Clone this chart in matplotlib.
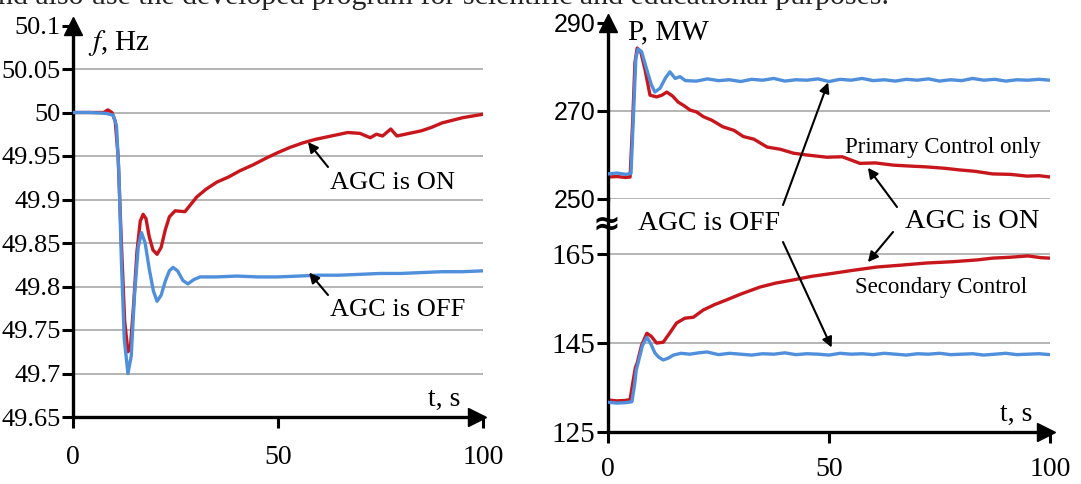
import numpy as np
import matplotlib.pyplot as plt

plt.rcParams['font.family'] = ['Liberation Serif', 'DejaVu Serif']
plt.rcParams['mathtext.fontset'] = 'stix'

RED = '#c8161d'
BLUE = '#4f8fdc'
GRID = '#a8a8a8'

# frequency, AGC off / on
t_f_off = [0, 4, 8, 9.8, 10.6, 11.2, 11.8, 12.5, 13.4, 14.2, 15.0, 15.9, 16.7, 17.6, 18.6, 19.6,
           20.5, 21.5, 22.5, 23.5, 24.4, 25.5, 26.8, 28.0, 29.5, 31, 35, 40, 45, 50, 55, 60,
           65, 70, 75, 80, 85, 90, 95, 100]
f_off = [50.0, 50.0, 49.999, 49.997, 49.985, 49.93, 49.83, 49.74, 49.70, 49.72, 49.79, 49.845,
         49.862, 49.85, 49.82, 49.795, 49.783, 49.79, 49.806, 49.818, 49.822, 49.818, 49.807,
         49.803, 49.808, 49.811, 49.811, 49.812, 49.811, 49.811, 49.812, 49.813, 49.813,
         49.814, 49.815, 49.815, 49.816, 49.817, 49.817, 49.818]

t_f_on = [0, 4, 7.5, 8.5, 9.5, 10.3, 11.0, 11.8, 12.6, 13.4, 14.0, 14.8, 15.6, 16.4, 17.1, 17.8,
          18.6, 19.5, 20.5, 21.5, 22.5, 23.5, 24.9, 27.3, 30.2, 32.5, 35.1, 38, 40.7, 44, 47.3,
          50, 53, 56, 59, 62, 65, 67, 70, 72.5, 74, 75.5, 77.5, 79, 81, 83, 85, 87.5, 90,
          92.5, 95, 97.5, 100]
f_on = [50.0, 50.0, 50.0, 50.003, 50.0, 49.99, 49.95, 49.85, 49.76, 49.725, 49.73, 49.78,
        49.84, 49.875, 49.883, 49.878, 49.857, 49.842, 49.837, 49.845, 49.865, 49.88, 49.887,
        49.886, 49.903, 49.912, 49.92, 49.926, 49.933, 49.94, 49.948, 49.954, 49.960, 49.965,
        49.969, 49.972, 49.975, 49.977, 49.976, 49.971, 49.975, 49.973, 49.981, 49.973,
        49.975, 49.977, 49.979, 49.983, 49.988, 49.991, 49.994, 49.996, 49.998]

# power, group with primary control only
t_pu_off = [0, 2, 4, 5.2, 5.8, 6.3, 6.8, 7.6, 8.8, 9.8, 10.6, 11.8, 13, 14, 15.2, 16.3, 17.5,
            20, 22.5, 25, 27.5, 30, 32.5, 35, 37.5, 40, 42.5, 45, 47.5, 50, 52.5, 55, 57.5,
            60, 62.5, 65, 67.5, 70, 72.5, 75, 77.5, 80, 82.5, 85, 87.5, 90, 92.5, 95, 97.5, 100]
p_u_off = [255.7, 255.9, 255.6, 255.8, 270, 282, 284.1, 283.5, 279.3, 276, 274.3, 275.2,
           277.5, 278.9, 277.4, 277.8, 276.9, 276.8, 277.3, 276.9, 277.1, 276.7, 277.2,
           277.0, 277.4, 276.8, 277.1, 277.0, 277.3, 276.7, 277.2, 277.0, 277.4, 276.9,
           277.1, 276.8, 277.2, 277.0, 277.3, 276.8, 277.1, 276.9, 277.4, 277.0, 277.2,
           276.8, 277.1, 277.0, 277.2, 277.0]

t_pu_on = [0, 2, 4, 5.0, 5.6, 6.1, 6.6, 7.4, 8.4, 9.5, 11, 12.2, 13.3, 14.6, 15.9, 17.2, 18.6,
           20, 21.6, 23.5, 26, 28.5, 30.6, 33, 36, 39, 42, 45, 49.5, 53, 57, 60.5, 64.5, 68,
           72, 76, 79.6, 83, 87, 91, 94.8, 97.5, 100]
p_u_on = [255.0, 255.1, 254.9, 255.0, 268, 281, 284.3, 283.5, 279.3, 273.6, 273.2, 273.6,
          274.3, 273.4, 272.0, 271.2, 270.2, 269.8, 268.7, 267.9, 266.4, 265.6, 264.2, 263.6,
          261.8, 261.3, 260.4, 260.0, 259.5, 259.6, 258.1, 258.2, 257.7, 257.5, 257.3, 257.0,
          256.6, 256.3, 255.7, 255.6, 255.2, 255.3, 255.0]

# power, group with secondary control
t_pl_on = [0, 2, 4, 5.0, 5.6, 6.2, 6.6, 7.6, 8.8, 9.8, 11, 12.5, 14, 15.5, 17.4, 19.3, 21.5,
           24, 26.8, 30, 34.4, 38, 41.9, 46, 51, 55, 60.8, 66, 72, 78, 83.5, 87, 91, 95, 98, 100]
p_l_on = [132.2, 132.0, 132.1, 132.3, 136, 139.5, 140.5, 144.5, 147.2, 146.5, 145.0, 145.2,
          147.3, 149.5, 150.6, 150.8, 152.4, 153.6, 154.7, 156.0, 157.6, 158.5, 159.2, 160.0,
          160.7, 161.3, 162.1, 162.5, 163.0, 163.3, 163.7, 164.1, 164.3, 164.6, 164.2, 164.1]

t_pl_off = [0, 2, 4, 5.4, 6.0, 6.4, 6.8, 7.8, 8.8, 9.7, 10.6, 11.5, 12.5, 13.6, 14.8, 16.5,
            18.5, 20.5, 22.4, 25, 27.5, 30, 32.5, 35, 37.5, 40, 42.5, 45, 47.5, 50, 52.5, 55,
            57.5, 60, 62.5, 65, 67.5, 70, 72.5, 75, 77.5, 80, 82.5, 85, 87.5, 90, 92.5, 95,
            97.5, 100]
p_l_off = [131.7, 131.5, 131.6, 131.8, 135.5, 139, 140.5, 144.5, 146.3, 144.8, 142.8, 141.8,
           141.2, 141.6, 142.3, 142.7, 142.5, 142.8, 143.0, 142.4, 142.7, 142.5, 142.3, 142.6,
           142.5, 142.8, 142.4, 142.6, 142.5, 142.3, 142.7, 142.5, 142.6, 142.4, 142.7, 142.5,
           142.3, 142.6, 142.5, 142.7, 142.4, 142.5, 142.6, 142.3, 142.5, 142.7, 142.4, 142.5,
           142.6, 142.4]

f_ticks = [49.65, 49.7, 49.75, 49.8, 49.85, 49.9, 49.95, 50, 50.05, 50.1]
f_labels = ['49.65', '49.7', '49.75', '49.8', '49.85', '49.9', '49.95', '50', '50.05', '50.1']
t_ticks = [0, 50, 100]

W, H = 1081, 484
fig = plt.figure(figsize=(W / 100, H / 100), dpi=100)


def px_axes(left, top, right, bottom):
    return fig.add_axes([left / W, 1 - bottom / H, (right - left) / W, (bottom - top) / H])


def base_style(ax):
    ax.set_facecolor('none')
    ax.spines['top'].set_visible(False)
    ax.spines['right'].set_visible(False)
    ax.spines['left'].set_linewidth(2.4)
    ax.spines['bottom'].set_linewidth(2.4)
    ax.tick_params(direction='out', width=2.2, length=8, pad=1)
    ax.set_xlim(0, 100)


def arrow_line(x0, y0, ax, xy):
    # arrow from a point in figure pixels (from top) to a data point
    ax.annotate('', xy=xy, xycoords='data', xytext=(x0, H - y0), textcoords='figure pixels',
                arrowprops=dict(arrowstyle='-|>', color='black', lw=1.5, mutation_scale=15,
                                shrinkA=0, shrinkB=0), annotation_clip=False)


# ---- left: frequency
ax1 = px_axes(73, 25.5, 483, 417)
base_style(ax1)
ax1.set_ylim(49.65, 50.1)
for v in f_ticks[1:-1]:
    ax1.axhline(v, color=GRID, lw=1.2, zorder=0)
ax1.plot(t_f_on, f_on, color=RED, lw=2.4, zorder=2)
ax1.plot(t_f_off, f_off, color=BLUE, lw=2.4, zorder=3)
ax1.set_yticks(f_ticks)
ax1.set_yticklabels(f_labels, fontsize=19)
ax1.set_xticks(t_ticks)
ax1.set_xticklabels(['0', '50', '100'], fontsize=20)
ax1.tick_params(axis='x', pad=12)
ax1.plot(0, 1.0, marker='^', color='black', ms=13, transform=ax1.transAxes, clip_on=False)
ax1.plot(0.985, 0, marker='>', color='black', ms=13, transform=ax1.transAxes, clip_on=False)
fig.text(88 / W, 1 - 43 / H, r'$f$, Hz', fontsize=21, va='center')
fig.text(428 / W, 1 - 399 / H, 't, s', fontsize=20, va='center')
fig.text(330 / W, 1 - 183 / H, 'AGC is ON', fontsize=19, va='center')
fig.text(330 / W, 1 - 310 / H, 'AGC is OFF', fontsize=19, va='center')
arrow_line(328, 167, ax1, (57.3, 49.966))
arrow_line(328, 295, ax1, (57.6, 49.816))

# ---- right: power, upper part (primary control only)
axu = px_axes(608, 23, 1050, 199)
base_style(axu)
axu.spines['bottom'].set_visible(False)
axu.set_ylim(250, 290)
for v in [250, 270]:
    axu.axhline(v, color=GRID, lw=1.2, zorder=0)
axu.plot(t_pu_on, p_u_on, color=RED, lw=2.4, zorder=2)
axu.plot(t_pu_off, p_u_off, color=BLUE, lw=2.4, zorder=3)
axu.set_yticks([250, 270, 290])
axu.set_yticklabels(['250', '270', '290'], fontsize=18, family='Liberation Sans')
axu.set_xticks([])
axu.plot(0, 1.0, marker='^', color='black', ms=13, transform=axu.transAxes, clip_on=False)

# ---- right: power, lower part (secondary control)
axl = px_axes(608, 199, 1050, 432)
base_style(axl)
axl.set_ylim(125, 177.4)
for v in [145, 165]:
    axl.axhline(v, color=GRID, lw=1.2, zorder=0)
axl.plot(t_pl_on, p_l_on, color=RED, lw=2.4, zorder=2)
axl.plot(t_pl_off, p_l_off, color=BLUE, lw=2.4, zorder=3)
axl.set_yticks([125, 145, 165])
axl.set_yticklabels(['125', '145', '165'], fontsize=21)
axl.set_xticks(t_ticks)
axl.set_xticklabels(['0', '50', '100'], fontsize=20)
axl.tick_params(axis='x', pad=10)
axl.plot(0.99, 0, marker='>', color='black', ms=13, transform=axl.transAxes, clip_on=False)

fig.text(606 / W, 1 - 224 / H, '≈', fontsize=24, fontweight='bold', ha='center', va='center',
         family='DejaVu Sans')
fig.text(628 / W, 1 - 32 / H, 'P, MW', fontsize=21, va='center')
fig.text(1000 / W, 1 - 414 / H, 't, s', fontsize=20, va='center')
fig.text(845 / W, 1 - 148 / H, 'Primary Control only', fontsize=16.5, va='center')
fig.text(855 / W, 1 - 287 / H, 'Secondary Control', fontsize=16.5, va='center')
fig.text(638 / W, 1 - 224 / H, 'AGC is OFF', fontsize=20, va='center')
fig.text(905 / W, 1 - 222 / H, 'AGC is ON', fontsize=20.5, va='center')
arrow_line(783, 205, axu, (49.8, 276.5))
arrow_line(783, 242, axl, (50.6, 144.0))
arrow_line(897, 207, axu, (58.8, 257.1))
arrow_line(893, 232, axl, (58.8, 163.2))

# cut-off line of the page text above the figure
fig.text(-2 / W, 1 - 4 / H, 'nd also use the developed program for scientific and educational purposes.',
         fontsize=21.5, va='baseline', color='#222222')

fig.savefig('out.png', dpi=100)
